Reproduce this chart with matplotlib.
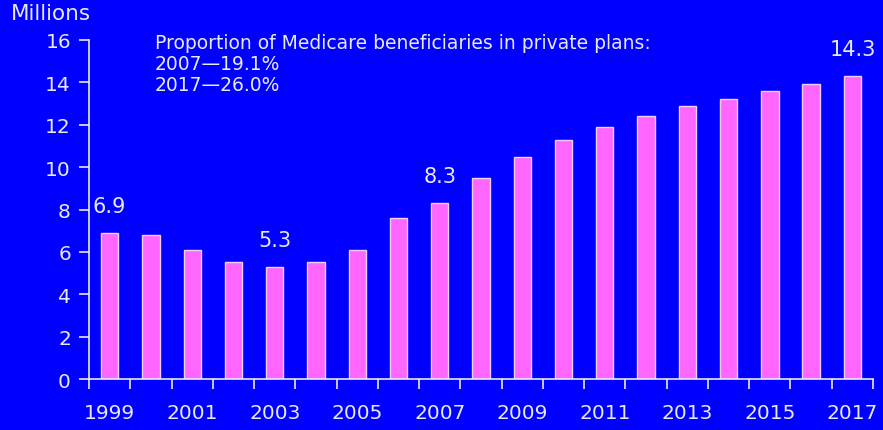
import numpy as np
import matplotlib.pyplot as plt

years = list(range(1999, 2018))
enrollment = [6.9, 6.8, 6.1, 5.5, 5.3, 5.5, 6.1, 7.6, 8.3, 9.5, 10.5,
              11.3, 11.9, 12.4, 12.9, 13.2, 13.6, 13.9, 14.3]
labeled_years = [1999, 2003, 2007, 2017]
note_lines = ["Proportion of Medicare beneficiaries in private plans:",
              "2007\u201419.1%",
              "2017\u201426.0%"]

bg = "#0000FF"
fg = "#E8E8FF"
bar_color = "#FF66FF"

plt.rcParams['font.family'] = ['DejaVu Sans']

fig = plt.figure(figsize=(8.83, 4.31), dpi=100, facecolor=bg)
ax = fig.add_axes([0.1008, 0.1183, 0.8879, 0.7866])
ax.set_facecolor(bg)

x = np.arange(len(years))
ax.bar(x, enrollment, width=0.42, color=bar_color, edgecolor="#F0D0FF", linewidth=1.0, zorder=2)

# value labels above selected bars
for yr in labeled_years:
    i = years.index(yr)
    ax.annotate(f"{enrollment[i]:.1f}", (x[i], enrollment[i]), xytext=(0, 12),
                textcoords="offset points", ha="center", va="bottom",
                color=fg, fontsize=15)

ax.set_xlim(-0.5, len(years) - 0.5)
ax.set_ylim(0, 16)
ax.set_yticks(range(0, 17, 2))

# tick marks between bars, labels under every other year
ax.set_xticks(x[::2])
ax.set_xticklabels([str(y) for y in years[::2]])
ax.set_xticks(np.arange(-0.5, len(years), 1), minor=True)
ax.tick_params(axis="x", which="major", length=0, pad=17, labelsize=14.5, colors=fg)
ax.tick_params(axis="x", which="minor", length=7, width=1.2, color=fg, direction="out")
ax.tick_params(axis="y", length=7, width=1.2, colors=fg, labelsize=14.5, pad=6)

for side in ["top", "right"]:
    ax.spines[side].set_visible(False)
for side in ["left", "bottom"]:
    ax.spines[side].set_color(fg)
    ax.spines[side].set_linewidth(1.2)

fig.text(0.012, 0.99, "Millions", color=fg, fontsize=15.5, ha="left", va="top")

for k, line in enumerate(note_lines):
    fig.text(0.175, 0.922 - k * 0.049, line, color=fg, fontsize=13.5, ha="left", va="top")

fig.savefig("out.png", dpi=100, facecolor=bg)
